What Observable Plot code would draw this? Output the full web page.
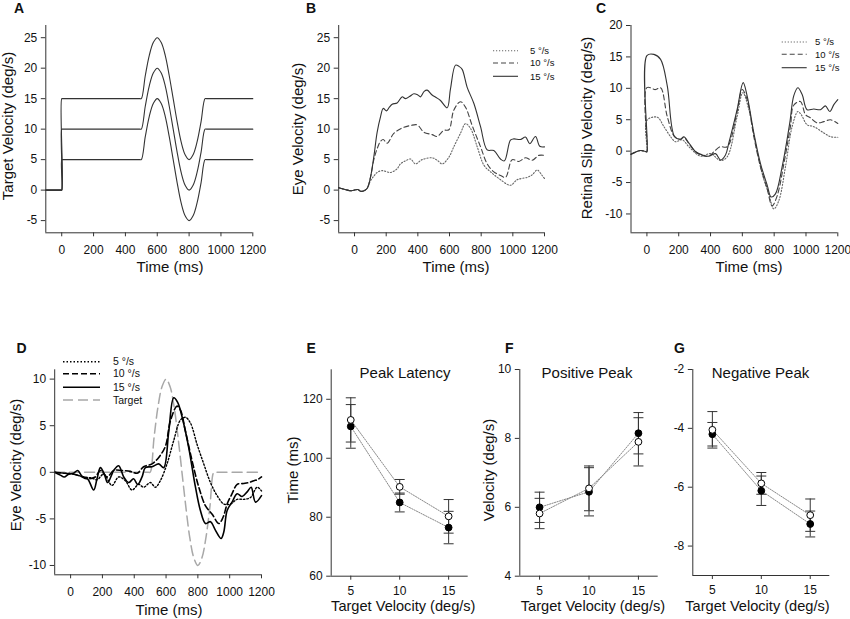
<!DOCTYPE html>
<html><head><meta charset="utf-8">
<script src="https://cdn.jsdelivr.net/npm/d3@7"></script>
<script src="https://cdn.jsdelivr.net/npm/@observablehq/plot@0.6"></script>
<style>
body{margin:0;background:#fff;}
#fig{position:relative;width:850px;height:619px;background:#fff;}
#fig svg{position:absolute;overflow:visible;}
</style></head><body><div id="fig"></div>
<script>
// ---------- Panel A: target velocity ----------
const aTime = [-100,-5,0,0,5,490,500,525,550,575,600,625,650,675,700,725,750,775,800,825,850,875,900,910,1200];
const aTarget5  = [0,0,0,5,5,5,5,8.8,12.1,14.2,15,14.2,12.1,8.8,5,1.2,-2.1,-4.2,-5,-4.2,-2.1,1.2,5,5,5];
const aTarget10 = [0,0,0,10,10,10,10,13.8,17.1,19.2,20,19.2,17.1,13.8,10,6.2,2.9,0.8,0,0.8,2.9,6.2,10,10,10];
const aTarget15 = [0,0,0,15,15,15,15,18.8,22.1,24.2,25,24.2,22.1,18.8,15,11.2,7.9,5.8,5,5.8,7.9,11.2,15,15,15];

// ---------- Panel B: eye velocity ----------
const b5t  = [-100,-60,-20,20,40,60,80,100,122,143,175,227,269,290,322,354,385,427,490,522,554,596,627,669,701,733,775,817,859,912,985,1027,1091,1122,1154,1185,1200];
const b5v  = [0.4,0.1,-0.1,0.1,-0.2,-0.1,0.3,1.5,2.3,2.9,3.2,2.9,3.5,4.3,4.8,5.1,4.3,5.0,5.3,4.9,4.3,5.4,7.1,9.3,10.9,10.1,7.1,4.1,3.0,1.9,0.8,1.7,2.1,2.5,3.3,2.4,1.9];
const b10t = [-100,-60,-20,20,40,60,80,100,122,143,164,181,206,248,301,354,396,438,490,522,564,596,627,669,701,743,796,838,880,922,954,996,1038,1080,1122,1164,1200];
const b10v = [0.4,0.1,-0.1,0.1,-0.2,-0.1,0.3,2.0,5.0,6.8,8.0,8.3,7.7,9.3,10.2,10.6,10.7,9.5,9.1,8.8,9.8,9.9,13.1,14.5,13.6,10.6,7.1,4.3,3.0,2.4,2.1,5.0,4.7,5.3,4.9,5.7,5.7];
const b15t = [-100,-60,-20,20,40,60,80,100,122,143,164,181,202,220,238,269,301,322,350,375,400,417,440,459,490,515,543,585,606,638,660,680,711,754,796,838,880,922,947,985,1006,1048,1080,1107,1143,1170,1200];
const b15v = [0.4,0.1,-0.1,0.1,-0.2,-0.1,0.3,2.0,5.5,9.5,12.0,13.4,13.0,13.6,14.1,14.3,15.3,15.0,15.4,15.8,15.6,15.3,16.2,16.4,15.6,15.2,14.7,13.5,16.6,20.5,20.3,19.8,16.9,14.2,10.4,6.6,6.5,5.1,4.8,8.2,8.4,8.3,8.7,7.6,8.8,7.2,7.1];

// ---------- Panel C: retinal slip velocity ----------
const c5t  = [-100,-40,-5,0,0,65,107,149,180,222,264,337,400,463,505,567,603,641,682,725,766,798,829,871,913,949,970,1007,1049,1112,1154,1200];
const c5v  = [-0.5,0.1,-0.1,-0.1,4.9,5.4,3.9,2.3,1.5,1.8,0.7,-0.8,-0.4,-1.5,-0.9,5.5,9.3,6.6,1.3,-3.6,-6.8,-9.2,-7.9,-2.5,3.9,6.3,5.8,4.2,3.9,2.9,2.3,2.2];
const c10t = [-100,-40,-5,0,0,54,86,128,174,212,232,264,306,348,390,421,459,505,567,599,630,672,714,756,787,819,861,902,923,965,997,1028,1070,1112,1154,1200];
const c10v = [-0.5,0.1,-0.1,-0.1,10.1,9.8,10.1,5.5,2.3,1.9,2.2,1.2,-0.1,-0.7,-0.8,-0.1,0.7,0.7,6.3,9.8,8.2,2.3,-2.5,-6.0,-8.7,-7.1,-2.0,3.9,7.3,7.9,5.8,5.3,4.5,4.7,5.0,4.4];
const c15t = [-100,-40,-5,0,0,44,86,128,174,212,232,264,306,348,390,431,463,494,515,567,605,630,672,714,756,781,808,850,898,923,949,976,1007,1049,1091,1122,1150,1175,1200];
const c15v = [-0.5,0.1,-0.1,-0.1,15.2,15.4,14.6,10.4,2.3,1.9,2.3,1.3,-0.1,-0.6,-0.8,-0.4,-1.4,-0.6,1.3,6.6,10.9,8.8,2.9,-2.0,-5.4,-7.3,-6.8,-2.5,4.5,8.8,10.1,9.0,6.6,6.7,6.6,7.2,6.3,7.4,8.2];

// ---------- Panel D: eye velocity (perturbation) ----------
const d5t  = [-100,-40,20,82,130,166,208,260,302,344,386,428,459,501,533,564,606,648,690,722,753,795,837,879,921,963,1005,1047,1089,1131,1173,1200];
const d5v  = [0,-0.1,-0.2,-0.5,-0.6,-0.8,-0.2,-1.4,-0.5,-0.9,-1.9,-1.3,-1.6,-1.1,-1.6,-0.9,0.9,3.4,5.6,5.9,5.3,3.0,0.9,-1.1,-2.5,-3.4,-3.4,-2.9,-2.9,-2.7,-1.6,-2.0];
const d10t = [-100,-40,20,61,103,155,187,229,271,323,376,418,459,512,554,596,627,669,690,722,764,806,848,890,932,959,984,1015,1047,1089,1120,1152,1173,1200];
const d10v = [0,-0.1,-0.2,-0.4,-0.7,-0.5,0.2,-0.5,0.2,0.2,0.1,-0.1,0.6,0.9,1.6,2.8,5.5,7.1,6.7,4.4,1.2,-1.6,-3.6,-4.5,-5.5,-4.8,-3.4,-2.3,-1.3,-1.2,-1.1,-0.9,-0.8,-0.5];
const d15t = [-100,-65,-40,-13,19,44,71,107,145,166,187,212,233,271,302,334,365,396,422,449,470,512,554,585,617,648,673,707,743,785,816,848,879,910,946,963,984,1015,1047,1078,1110,1135,1162,1200];
const d15v = [0,-0.3,-0.5,-0.2,-0.1,0.2,-0.4,-0.7,-1.9,-0.7,0.5,-0.2,-1.1,0.2,0.7,-0.5,-1.1,-0.7,-1.3,-0.5,0.5,0.6,0.9,0.5,4.4,8.0,7.5,5.5,2.6,-1.6,-4.1,-5.5,-5.3,-6.2,-7.1,-6.4,-4.1,-3.2,-2.3,-2.6,-2.1,-1.6,-3.2,-2.5];
const dTargetT = [-100,490,500,525,550,575,600,625,650,675,700,725,750,775,800,825,850,875,900,910,1200];
const dTargetV = [0,0,0,3.8,7.1,9.2,10,9.2,7.1,3.8,0,-3.8,-7.1,-9.2,-10,-9.2,-7.1,-3.8,0,0,0];

// ---------- Panels E, F, G: summary statistics ----------
const speeds = [5, 10, 15];
const eFilled = [110.8, 85.0, 76.5], eFilledErr = [7.4, 3.2, 5.5];
const eOpen   = [113.0, 90.3, 80.3], eOpenErr   = [7.5, 2.5, 5.7];
const fFilled = [6.0, 6.45, 8.15],   fFilledErr = [0.44, 0.7, 0.6];
const fOpen   = [5.82, 6.55, 7.9],   fOpenErr   = [0.44, 0.65, 0.7];
const gFilled = [-4.2, -6.12, -7.25], gFilledErr = [0.4, 0.5, 0.44];
const gOpen   = [-4.05, -5.87, -6.95], gOpenErr  = [0.62, 0.37, 0.55];

const timeTicks = [0,200,400,600,800,1000,1200];
const legendLabels = ["5 °/s", "10 °/s", "15 °/s"];

// ---------- helpers ----------
const FONT = '"Liberation Sans", Arial, Helvetica, sans-serif';
const fig = document.getElementById("fig");
const pts = (t, v) => t.map((x, i) => ({x, y: v[i]}));

function panel(o) {
  const chart = Plot.plot({
    width: o.w, height: o.h,
    marginLeft: o.ml, marginRight: o.mr, marginTop: o.mt, marginBottom: o.mb,
    style: {fontFamily: FONT, fontSize: "12px", color: "#111", background: "transparent", overflow: "visible"},
    x: {domain: o.xd},
    y: {domain: o.yd},
    marks: [
      ...o.marks,
      Plot.ruleX([o.xd[0]], {stroke: "#333", strokeWidth: 1}),
      Plot.ruleY([o.yd[0]], {stroke: "#333", strokeWidth: 1}),
      Plot.axisX({ticks: o.xt, tickSize: 4, tickPadding: o.xpad ?? 8.5, label: null, tickFormat: d => String(d), stroke: "#333"}),
      Plot.axisY({ticks: o.yt, tickSize: 4.5, tickPadding: 4, label: null, tickFormat: d => String(d), stroke: "#333"})
    ]
  });
  chart.style.left = o.left + "px";
  chart.style.top = o.top + "px";
  fig.appendChild(chart);
}

const line = (t, v, s) => Plot.line(pts(t, v), {x: "x", y: "y", curve: "catmull-rom", ...s});

const stA = {stroke: "#333", strokeWidth: 1.1};
const st5 = {stroke: "#666", strokeWidth: 1.1, strokeDasharray: "1.2,1.8"};
const st10 = {stroke: "#444", strokeWidth: 1.1, strokeDasharray: "5,3"};
const st15 = {stroke: "#333", strokeWidth: 1.1};
const sd5 = {stroke: "#000", strokeWidth: 1.4, strokeDasharray: "1.5,2"};
const sd10 = {stroke: "#000", strokeWidth: 1.6, strokeDasharray: "6,3"};
const sd15 = {stroke: "#000", strokeWidth: 1.6};
const sdT = {stroke: "#a8a8a8", strokeWidth: 1.5, strokeDasharray: "10,5"};

// A
panel({left: 0, top: 0, w: 280, h: 300, ml: 45.3, mr: 27.7, mt: 25, mb: 67.7,
  xd: [-100, 1200], yd: [-7, 27], xt: timeTicks, yt: [-5,0,5,10,15,20,25],
  marks: [line(aTime, aTarget5, stA), line(aTime, aTarget10, stA), line(aTime, aTarget15, stA)]});
// B
panel({left: 290, top: 0, w: 280, h: 300, ml: 48.2, mr: 26, mt: 25, mb: 67.7,
  xd: [-100, 1200], yd: [-7, 27], xt: timeTicks, yt: [-5,0,5,10,15,20,25],
  marks: [line(b5t, b5v, st5), line(b10t, b10v, st10), line(b15t, b15v, st15)]});
// C
panel({left: 580, top: 0, w: 270, h: 300, ml: 50.5, mr: 12.7, mt: 25, mb: 67.7,
  xd: [-100, 1200], yd: [-13, 20], xt: timeTicks, yt: [-10,-5,0,5,10,15,20],
  marks: [line(c5t, c5v, st5), line(c10t, c10v, st10), line(c15t, c15v, st15)]});
// D
panel({left: 0, top: 320, w: 280, h: 299, ml: 54.2, mr: 19, mt: 49.3, mb: 44.7,
  xd: [-100, 1200], yd: [-11, 11], xt: timeTicks, yt: [-10,-5,0,5,10],
  marks: [line(dTargetT, dTargetV, sdT), line(d5t, d5v, sd5), line(d10t, d10v, sd10), line(d15t, d15v, sd15)]});

const cap = {draw(ctx, size) { const r = Math.sqrt(size / Math.PI); ctx.moveTo(-r, 0); ctx.lineTo(r, 0); }};
function statMarks(mF, eF, mO, eO) {
  const F = speeds.map((x, i) => ({x, m: mF[i], lo: mF[i] - eF[i], hi: mF[i] + eF[i]}));
  const O = speeds.map((x, i) => ({x, m: mO[i], lo: mO[i] - eO[i], hi: mO[i] + eO[i]}));
  const conn = {x: "x", y: "m", stroke: "#888", strokeWidth: 1, strokeDasharray: "1.3,1.3"};
  const bar = {x: "x", y1: "lo", y2: "hi", stroke: "#333", strokeWidth: 1};
  const capS = {x: "x", symbol: cap, r: 5, stroke: "#333", fill: "none", strokeWidth: 1};
  return [
    Plot.line(F, conn), Plot.line(O, conn),
    Plot.ruleX(F, bar), Plot.ruleX(O, bar),
    Plot.dot(F, {...capS, y: "lo"}), Plot.dot(F, {...capS, y: "hi"}),
    Plot.dot(O, {...capS, y: "lo"}), Plot.dot(O, {...capS, y: "hi"}),
    Plot.dot(F, {x: "x", y: "m", r: 3.4, fill: "#000", stroke: "#000", strokeWidth: 1}),
    Plot.dot(O, {x: "x", y: "m", r: 3.4, fill: "#fff", stroke: "#000", strokeWidth: 1})
  ];
}
// E
panel({left: 290, top: 320, w: 190, h: 299, ml: 40.7, mr: 12.3, mt: 49.3, mb: 43.3, xpad: 6,
  xd: [3, 17], yd: [60, 130], xt: speeds, yt: [60,80,100,120],
  marks: statMarks(eFilled, eFilledErr, eOpen, eOpenErr)});
// F
panel({left: 480, top: 320, w: 190, h: 299, ml: 39.3, mr: 12.3, mt: 49, mb: 43.3, xpad: 6,
  xd: [3, 17], yd: [4, 10], xt: speeds, yt: [4,6,8,10],
  marks: statMarks(fFilled, fFilledErr, fOpen, fOpenErr)});
// G
panel({left: 670, top: 320, w: 180, h: 299, ml: 22.3, mr: 20.7, mt: 49, mb: 44, xpad: 6,
  xd: [3, 17], yd: [-9, -2], xt: speeds, yt: [-8,-6,-4,-2],
  marks: statMarks(gFilled, gFilledErr, gOpen, gOpenErr)});

// ---------- overlay: letters, titles, legends ----------
const ov = d3.create("svg").attr("width", 850).attr("height", 619)
  .style("left", "0px").style("top", "0px").style("pointer-events", "none")
  .attr("font-family", FONT).attr("fill", "#111");
fig.appendChild(ov.node());

[["A",14,13],["B",306,13],["C",596,13],["D",16.5,353],["E",306.5,353],["F",505,353],["G",674,353]]
  .forEach(([s,x,y]) => ov.append("text").attr("x", x).attr("y", y).attr("font-size", 14).attr("font-weight", "bold").text(s));

const xTitle = (s, x, y, fs = 15) => ov.append("text").attr("x", x).attr("y", y).attr("text-anchor", "middle").attr("font-size", fs).text(s);
const yTitle = (s, x, y) => ov.append("text").attr("transform", `translate(${x},${y}) rotate(-90)`).attr("text-anchor", "middle").attr("font-size", 15).text(s);

yTitle("Target Velocity (deg/s)", 13, 126); xTitle("Time (ms)", 170, 272);
yTitle("Eye Velocity (deg/s)", 302.5, 129); xTitle("Time (ms)", 456, 272);
yTitle("Retinal Slip Velocity (deg/s)", 591.5, 128); xTitle("Time (ms)", 749, 272);
yTitle("Eye Velocity (deg/s)", 20.7, 465); xTitle("Time (ms)", 169, 614.5);
yTitle("Time (ms)", 298, 470); xTitle("Target Velocity (deg/s)", 403.3, 610.8, 14.6);
yTitle("Velocity (deg/s)", 494, 470); xTitle("Target Velocity (deg/s)", 593, 610.8, 14.6);
xTitle("Target Velocity (deg/s)", 757.5, 610.8, 14.6);
xTitle("Peak Latency", 405, 378); xTitle("Positive Peak", 587, 378); xTitle("Negative Peak", 760.5, 378);

function legend(x1, x2, tx, ys, labels, styles, fs) {
  labels.forEach((lab, i) => {
    const s = styles[i];
    ov.append("line").attr("x1", x1).attr("x2", x2).attr("y1", ys[i]).attr("y2", ys[i])
      .attr("stroke", s.stroke).attr("stroke-width", s.strokeWidth).attr("stroke-dasharray", s.strokeDasharray || null);
    ov.append("text").attr("x", tx).attr("y", ys[i] + fs * 0.36).attr("font-size", fs).text(lab);
  });
}
legend(493, 518, 530, [50.7, 63, 76.3], legendLabels, [st5, st10, st15], 9.5);
legend(781.7, 806.7, 815, [42, 54.3, 67.7], legendLabels, [st5, st10, st15], 9.5);
legend(63, 100, 113, [361.7, 373.7, 387.3, 400], [...legendLabels, "Target"], [sd5, sd10, sd15, sdT], 10.5);
</script></body></html>
